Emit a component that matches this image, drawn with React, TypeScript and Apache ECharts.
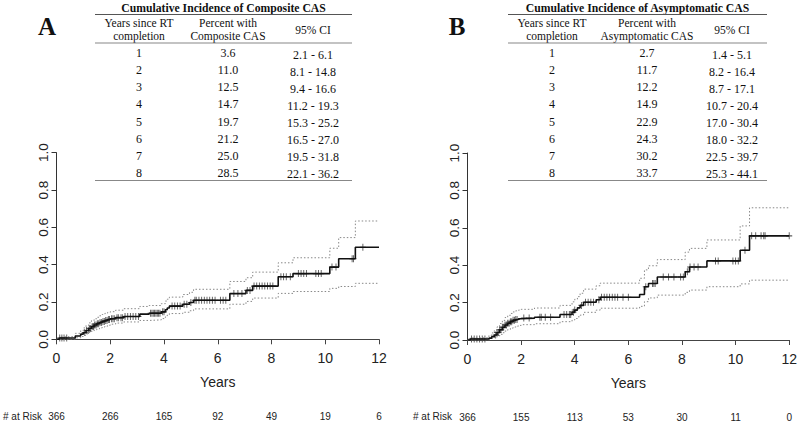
import React, { useEffect, useRef } from "react";
import * as echarts from "echarts";

// ---------- Table data ----------
const years = ["1", "2", "3", "4", "5", "6", "7", "8"];
const pctA = ["3.6", "11.0", "12.5", "14.7", "19.7", "21.2", "25.0", "28.5"];
const ciA = ["2.1 - 6.1", "8.1 - 14.8", "9.4 - 16.6", "11.2 - 19.3", "15.3 - 25.2", "16.5 - 27.0", "19.5 - 31.8", "22.1 - 36.2"];
const pctB = ["2.7", "11.7", "12.2", "14.9", "22.9", "24.3", "30.2", "33.7"];
const ciB = ["1.4 - 5.1", "8.2 - 16.4", "8.7 - 17.1", "10.7 - 20.4", "17.0 - 30.4", "18.0 - 32.2", "22.5 - 39.7", "25.3 - 44.1"];

// ---------- Axis / at-risk data ----------
const xTicks = [0, 2, 4, 6, 8, 10, 12];
const atRiskA = [366, 266, 165, 92, 49, 19, 6];
const atRiskB = [366, 155, 113, 53, 30, 11, 0];

// ---------- Panel A: Composite CAS ----------
const tA = [0, 0.1, 0.7, 0.9, 1.0, 1.1, 1.2, 1.3, 1.4, 1.5, 1.6, 1.7, 1.8, 1.9, 2.0, 2.2, 2.5, 3.1, 3.45, 3.9, 4.05, 4.12, 4.2, 4.7, 4.95, 5.1, 6.45, 7.05, 7.3, 8.25, 8.8, 10.17, 10.5, 11.12, 12];
const estA = [0, 0.007, 0.018, 0.028, 0.036, 0.047, 0.058, 0.068, 0.077, 0.084, 0.09, 0.096, 0.101, 0.106, 0.11, 0.116, 0.122, 0.135, 0.14, 0.147, 0.158, 0.168, 0.178, 0.188, 0.197, 0.209, 0.245, 0.262, 0.285, 0.335, 0.352, 0.387, 0.432, 0.493, 0.493];
const upA = [0, 0.014, 0.032, 0.047, 0.061, 0.075, 0.088, 0.1, 0.11, 0.118, 0.126, 0.133, 0.139, 0.144, 0.148, 0.156, 0.164, 0.176, 0.181, 0.191, 0.205, 0.215, 0.226, 0.24, 0.252, 0.268, 0.31, 0.33, 0.36, 0.41, 0.437, 0.488, 0.545, 0.634, 0.634];
const loA = [0, 0.002, 0.008, 0.015, 0.021, 0.029, 0.036, 0.043, 0.05, 0.056, 0.061, 0.066, 0.07, 0.075, 0.081, 0.087, 0.093, 0.101, 0.104, 0.111, 0.12, 0.13, 0.138, 0.145, 0.153, 0.163, 0.188, 0.203, 0.221, 0.246, 0.256, 0.273, 0.283, 0.3, 0.3];
const censA = [0.12, 0.2, 0.28, 0.38, 1.05, 1.12, 1.18, 1.22, 1.27, 1.33, 1.38, 1.42, 1.47, 1.52, 1.57, 1.62, 1.68, 1.73, 1.78, 1.83, 1.88, 1.93, 1.97, 2.05, 2.1, 2.15, 2.25, 2.3, 2.4, 2.45, 2.55, 2.65, 2.75, 2.85, 2.95, 3.05, 3.5, 3.55, 3.6, 3.65, 3.7, 3.75, 3.8, 3.85, 3.95, 4.0, 4.3, 4.4, 4.5, 4.6, 4.75, 4.85, 5.0, 5.15, 5.2, 5.3, 5.4, 5.5, 5.6, 5.7, 5.8, 5.9, 6.1, 6.2, 6.3, 6.6, 6.75, 6.9, 7.1, 7.2, 7.35, 7.45, 7.55, 7.65, 7.75, 7.85, 7.95, 8.05, 8.35, 8.45, 8.55, 8.7, 9.0, 9.1, 9.2, 9.3, 9.65, 9.75, 9.85, 10.25, 10.4, 11.0, 11.05, 11.4];

// ---------- Panel B: Asymptomatic CAS ----------
const tB = [0, 0.1, 0.8, 0.9, 1.0, 1.1, 1.2, 1.3, 1.4, 1.5, 1.6, 1.7, 1.8, 1.9, 2.0, 2.5, 3.45, 3.9, 4.0, 4.1, 4.2, 4.33, 4.8, 4.95, 6.42, 6.6, 6.75, 7.08, 8.12, 8.28, 8.93, 10.17, 10.52, 12];
const estB = [0, 0.005, 0.01, 0.018, 0.027, 0.04, 0.055, 0.068, 0.08, 0.09, 0.098, 0.105, 0.11, 0.114, 0.117, 0.122, 0.136, 0.149, 0.16, 0.172, 0.185, 0.202, 0.215, 0.229, 0.243, 0.285, 0.302, 0.337, 0.365, 0.39, 0.423, 0.48, 0.557, 0.557];
const upB = [0, 0.012, 0.025, 0.038, 0.051, 0.07, 0.088, 0.105, 0.12, 0.132, 0.142, 0.15, 0.156, 0.16, 0.164, 0.171, 0.185, 0.204, 0.218, 0.232, 0.25, 0.272, 0.29, 0.304, 0.33, 0.375, 0.397, 0.43, 0.47, 0.49, 0.535, 0.61, 0.707, 0.707];
const loB = [0, 0.001, 0.004, 0.008, 0.014, 0.021, 0.03, 0.039, 0.048, 0.056, 0.063, 0.069, 0.074, 0.078, 0.082, 0.087, 0.098, 0.107, 0.115, 0.124, 0.133, 0.148, 0.16, 0.17, 0.18, 0.205, 0.225, 0.24, 0.255, 0.267, 0.285, 0.3, 0.32, 0.32];
const censB = [0.15, 0.25, 0.35, 0.45, 0.55, 0.65, 1.05, 1.1, 1.15, 1.2, 1.25, 1.3, 1.35, 1.4, 1.45, 1.5, 1.55, 1.6, 1.65, 1.7, 1.75, 1.8, 1.85, 2.1, 2.3, 2.7, 2.75, 2.9, 3.1, 3.6, 3.7, 3.8, 3.85, 3.95, 4.0, 4.25, 4.4, 4.5, 4.6, 4.7, 4.9, 5.0, 5.1, 5.2, 5.3, 5.4, 5.5, 5.6, 5.8, 6.0, 6.65, 6.9, 6.95, 7.0, 7.3, 7.5, 7.7, 7.95, 8.05, 8.2, 8.3, 8.45, 8.6, 9.25, 9.35, 9.9, 10.0, 10.1, 10.35, 10.6, 10.75, 10.95, 11.05, 11.1, 12.0];

const SERIF = '"Liberation Serif", "Times New Roman", serif';
const SANS = '"Liberation Sans", Arial, sans-serif';

function stepAt(ts: number[], vs: number[], t: number) {
  let v = vs[0];
  for (let i = 0; i < ts.length; i++) {
    if (ts[i] <= t) v = vs[i];
  }
  return v;
}

function pairs(ts: number[], vs: number[]) {
  return ts.map((t, i) => [t, vs[i]]);
}

function makeTable(o: {
  x0: number; x1: number; cols: number[]; title: string; hdr2: string[];
  letter: string; letterX: number; pct: string[]; ci: string[];
}) {
  const els: any[] = [];
  const txt = (text: string, x: number, y: number, font: string) => ({
    type: "text", x, y, silent: true,
    style: { text, font, fill: "#111", align: "center", verticalAlign: "middle" },
  });
  const ln = (x1: number, y: number, x2: number, color: string) => ({
    type: "line", silent: true,
    shape: { x1, y1: y, x2, y2: y },
    style: { stroke: color, lineWidth: 1.2 },
  });
  const hf = `11.5px ${SERIF}`;
  els.push(txt(o.letter, o.letterX, 26, `bold 25px ${SERIF}`));
  els.push(txt(o.title, (o.x0 + o.x1) / 2, 8.5, `bold 11.7px ${SERIF}`));
  els.push(ln(o.x0, 14.5, o.x1, "#555"));
  els.push(txt("Years since RT", o.cols[0], 23, hf));
  els.push(txt("completion", o.cols[0], 35.6, hf));
  els.push(txt(o.hdr2[0], o.cols[1], 23, hf));
  els.push(txt(o.hdr2[1], o.cols[1], 35.6, hf));
  els.push(txt("95% CI", o.cols[2], 29.5, hf));
  els.push(ln(o.x0, 43, o.x1, "#888"));
  years.forEach((y, i) => {
    const yy = 53.3 + i * 17.06;
    els.push(txt(y, o.cols[0], yy, `12px ${SERIF}`));
    els.push(txt(o.pct[i], o.cols[1], yy, `12px ${SERIF}`));
    els.push(txt(o.ci[i], o.cols[2], yy + 1.5, `12px ${SERIF}`));
  });
  els.push(ln(o.x0, 180.5, o.x1, "#888"));
  return els;
}

const plusSymbol = "path://M0,5L10,5M5,0L5,10";

function panelSeries(xi: number, yi: number, ts: number[], est: number[], up: number[], lo: number[], cens: number[]) {
  const ci = (data: number[][]) => ({
    type: "line", xAxisIndex: xi, yAxisIndex: yi, step: "end", data,
    symbol: "none", silent: true,
    lineStyle: { color: "#888", width: 1, type: [1.5, 2] },
  });
  return [
    ci(pairs(ts, up)),
    ci(pairs(ts, lo)),
    {
      type: "line", xAxisIndex: xi, yAxisIndex: yi, step: "end",
      data: pairs(ts, est), symbol: "none", silent: true,
      lineStyle: { color: "#111", width: 1.6 },
    },
    {
      type: "scatter", xAxisIndex: xi, yAxisIndex: yi, silent: true,
      data: cens.map((t) => [t, stepAt(ts, est, t)]),
      symbol: plusSymbol, symbolSize: [6, 7],
      itemStyle: { color: "none", borderColor: "#333", borderWidth: 1 },
    },
  ];
}

function xAxes(gi: number, atRisk: number[]) {
  return [
    {
      type: "value", gridIndex: gi, min: 0, max: 12, interval: 2,
      name: "Years", nameLocation: "middle", nameGap: 36,
      nameTextStyle: { fontFamily: SANS, fontSize: 14, color: "#222" },
      axisLine: { show: true, lineStyle: { color: "#444", width: 1.2 } },
      axisTick: { show: true, length: 5, lineStyle: { color: "#444" } },
      axisLabel: { fontFamily: SANS, fontSize: 14, color: "#222", margin: 12 },
      splitLine: { show: false },
    },
    {
      type: "value", gridIndex: gi, min: 0, max: 12, interval: 2, position: "bottom", offset: 64,
      axisLine: { show: false }, axisTick: { show: false }, splitLine: { show: false },
      axisLabel: {
        fontFamily: SANS, fontSize: 10, color: "#222", margin: 8,
        formatter: (v: number) => {
          const k = xTicks.indexOf(v);
          return k >= 0 ? String(atRisk[k]) : "";
        },
      },
    },
  ];
}

function yAxis(gi: number) {
  return {
    type: "value", gridIndex: gi, min: 0, max: 1, interval: 0.2,
    axisLine: { show: true, lineStyle: { color: "#333", width: 1 } },
    axisTick: { show: true, length: 5, lineStyle: { color: "#333" } },
    axisLabel: {
      fontFamily: SANS, fontSize: 13.5, color: "#222", rotate: 90, margin: 6,
      formatter: (v: number) => v.toFixed(1),
    },
    splitLine: { show: false },
  };
}

export default function App() {
  const ref = useRef<HTMLDivElement>(null);
  useEffect(() => {
    document.body.style.margin = "0";
    if (!ref.current) return;
    const chart = echarts.init(ref.current, null, { renderer: "svg" });
    const graphic = [
      ...makeTable({
        x0: 95, x1: 352, cols: [139, 228, 313],
        title: "Cumulative Incidence of Composite CAS",
        hdr2: ["Percent with", "Composite CAS"], letter: "A", letterX: 47, pct: pctA, ci: ciA,
      }),
      ...makeTable({
        x0: 508, x1: 767, cols: [552, 647, 732],
        title: "Cumulative Incidence of Asymptomatic CAS",
        hdr2: ["Percent with", "Asymptomatic CAS"], letter: "B", letterX: 457, pct: pctB, ci: ciB,
      }),
      {
        type: "text", x: 3, y: 416, silent: true,
        style: { text: "# at Risk", font: `10px ${SANS}`, fill: "#222", verticalAlign: "middle" },
      },
      {
        type: "text", x: 413, y: 416, silent: true,
        style: { text: "# at Risk", font: `10px ${SANS}`, fill: "#222", verticalAlign: "middle" },
      },
    ];
    chart.setOption({
      animation: false,
      backgroundColor: "#fff",
      grid: [
        { left: 56.5, top: 152.7, width: 322.5, height: 186.6 },
        { left: 467.5, top: 153, width: 321.8, height: 187 },
      ],
      xAxis: [...xAxes(0, atRiskA), ...xAxes(1, atRiskB)],
      yAxis: [yAxis(0), yAxis(1)],
      series: [
        ...panelSeries(0, 0, tA, estA, upA, loA, censA),
        ...panelSeries(2, 1, tB, estB, upB, loB, censB),
      ],
      graphic,
    });
    return () => chart.dispose();
  }, []);
  return (
    <div
      ref={ref}
      style={{ position: "fixed", left: 0, top: 0, width: 800, height: 424, background: "#fff" }}
    />
  );
}
